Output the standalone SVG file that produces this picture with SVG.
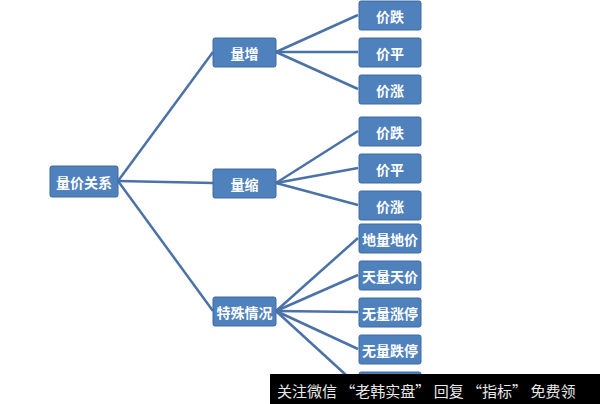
<svg xmlns="http://www.w3.org/2000/svg" width="600" height="404" viewBox="0 0 600 404">
<style>
.n rect{fill:#4F81BD;stroke:#3f6aa0;stroke-width:1}
.n text{fill:#fff;font-family:"Noto Sans CJK SC",sans-serif;font-size:14px;font-weight:bold;text-anchor:middle;dominant-baseline:central}
#c line{stroke:#4A72A8;stroke-width:2.5}
</style>
<rect width="600" height="404" fill="#fff"/>
<g id="c">
<line x1="118" y1="181" x2="213" y2="52"/>
<line x1="118" y1="181" x2="213" y2="183"/>
<line x1="118" y1="181" x2="213" y2="311"/>
<line x1="276" y1="52" x2="358" y2="15"/>
<line x1="276" y1="52" x2="358" y2="52"/>
<line x1="276" y1="52" x2="358" y2="89"/>
<line x1="276" y1="183" x2="358" y2="131"/>
<line x1="276" y1="183" x2="358" y2="168"/>
<line x1="276" y1="183" x2="358" y2="205"/>
<line x1="276" y1="311" x2="358" y2="238"/>
<line x1="276" y1="311" x2="358" y2="275"/>
<line x1="276" y1="311" x2="358" y2="312"/>
<line x1="276" y1="311" x2="358" y2="349"/>
<line x1="276" y1="311" x2="358" y2="386"/>
</g>
<g id="root" class="n"><rect x="50" y="166" width="68" height="31" rx="2"/><text x="84" y="181.5">量价关系</text></g>
<g id="m1" class="n"><rect x="213" y="38" width="63" height="29" rx="2"/><text x="244.5" y="52.5">量增</text></g>
<g id="m2" class="n"><rect x="213" y="169" width="63" height="29" rx="2"/><text x="244.5" y="183.5">量缩</text></g>
<g id="m3" class="n"><rect x="213" y="297" width="63" height="29" rx="2"/><text x="244.5" y="311.5">特殊情况</text></g>
<g id="l1" class="n"><rect x="359" y="1" width="62" height="29" rx="2"/><text x="390" y="15.5">价跌</text></g>
<g id="l2" class="n"><rect x="359" y="38" width="62" height="29" rx="2"/><text x="390" y="52.5">价平</text></g>
<g id="l3" class="n"><rect x="359" y="75" width="62" height="29" rx="2"/><text x="390" y="89.5">价涨</text></g>
<g id="l4" class="n"><rect x="359" y="117" width="62" height="29" rx="2"/><text x="390" y="131.5">价跌</text></g>
<g id="l5" class="n"><rect x="359" y="154" width="62" height="29" rx="2"/><text x="390" y="168.5">价平</text></g>
<g id="l6" class="n"><rect x="359" y="191" width="62" height="29" rx="2"/><text x="390" y="205.5">价涨</text></g>
<g id="l7" class="n"><rect x="359" y="224" width="62" height="29" rx="2"/><text x="390" y="238.5">地量地价</text></g>
<g id="l8" class="n"><rect x="359" y="261" width="62" height="29" rx="2"/><text x="390" y="275.5">天量天价</text></g>
<g id="l9" class="n"><rect x="359" y="298" width="62" height="29" rx="2"/><text x="390" y="312.5">无量涨停</text></g>
<g id="l10" class="n"><rect x="359" y="335" width="62" height="29" rx="2"/><text x="390" y="349.5">无量跌停</text></g>
<g id="l11" class="n"><rect x="359" y="372" width="62" height="29" rx="2"/></g>
<rect x="270" y="374" width="330" height="30" fill="#000"/>
<text x="277" y="390" fill="#e8e8e8" font-family="Noto Sans CJK SC,sans-serif" font-size="15" dominant-baseline="central">关注微信 “老韩实盘” 回复 “指标” 免费领</text>
</svg>
